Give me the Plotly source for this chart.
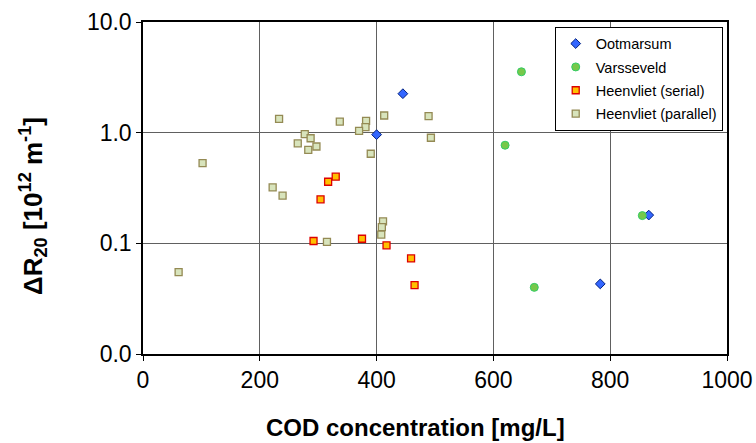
import plotly.graph_objects as go

# Data
oot_x = [445, 400, 866, 783]
oot_y = [2.25, 0.96, 0.18, 0.043]

var_x = [648, 620, 855, 670]
var_y = [3.55, 0.77, 0.178, 0.040]

ser_x = [317, 330, 304, 292, 375, 417, 459, 465]
ser_y = [0.36, 0.40, 0.25, 0.105, 0.11, 0.096, 0.073, 0.042]

par_x = [233, 337, 382, 381, 370, 413, 489, 493, 277, 287, 265, 283, 297, 390,
         102, 222, 239, 411, 409, 408, 315, 61]
par_y = [1.33, 1.26, 1.28, 1.12, 1.04, 1.43, 1.41, 0.90, 0.97, 0.89, 0.80, 0.70,
         0.75, 0.645, 0.53, 0.32, 0.27, 0.158, 0.14, 0.12, 0.103, 0.055]

x_ticks = [0, 200, 400, 600, 800, 1000]
y_tickvals = [0.01, 0.1, 1, 10]
y_ticktext = ["0.0", "0.1", "1.0", "10.0"]

x_title = "<b>COD concentration [mg/L]</b>"
y_title = "<b>ΔR<sub>20</sub> [10<sup>12</sup> m<sup>-1</sup>]</b>"

fig = go.Figure()
fig.add_trace(go.Scatter(x=oot_x, y=oot_y, mode="markers", name="Ootmarsum", legendgroup="a",
                         marker=dict(symbol="diamond", size=7.5, color="#3366FF",
                                     line=dict(color="#002080", width=1))))
fig.add_trace(go.Scatter(x=var_x, y=var_y, mode="markers", name="Varsseveld", legendgroup="b",
                         marker=dict(symbol="circle", size=8, color="#77C84A",
                                     line=dict(color="#33CC66", width=1))))
fig.add_trace(go.Scatter(x=ser_x, y=ser_y, mode="markers", name="Heenvliet (serial)", legendgroup="c",
                         marker=dict(symbol="square", size=7, color="#FFC000",
                                     line=dict(color="#DD0000", width=1.3))))
fig.add_trace(go.Scatter(x=par_x, y=par_y, mode="markers", name="Heenvliet (parallel)", legendgroup="d",
                         marker=dict(symbol="square", size=7, color="#D8E4BC",
                                     line=dict(color="#948A54", width=1.3))))

fig.update_layout(
    width=756, height=443,
    margin=dict(l=143, r=29, t=22, b=89),
    paper_bgcolor="white", plot_bgcolor="white",
    font=dict(family="Liberation Sans, Arial", color="black"),
    showlegend=True,
    legend=dict(x=0.705, y=0.986, xanchor="left", yanchor="top",
                bgcolor="white", bordercolor="black", borderwidth=1,
                font=dict(size=14.5), itemsizing="trace",
                tracegroupgap=1.5, itemwidth=30),
    xaxis=dict(range=[0, 1000], tickvals=x_ticks, showgrid=True, automargin=False,
               gridcolor="#606060", gridwidth=1, zeroline=False,
               showline=True, linecolor="black", linewidth=1.5, mirror=True,
               ticks="outside", ticklen=5, tickcolor="black",
               tickfont=dict(size=23)),
    yaxis=dict(type="log", range=[-2, 1], tickvals=y_tickvals, ticktext=y_ticktext,
               showgrid=True, gridcolor="#606060", gridwidth=1, zeroline=False, automargin=False,
               showline=True, linecolor="black", linewidth=1.5, mirror=True,
               ticks="outside", ticklen=5, tickcolor="black",
               tickfont=dict(size=23)),
    annotations=[
        dict(text=x_title, xref="paper", yref="paper", x=(415 - 143) / 584, y=-(427 - 354) / 332,
             xanchor="center", yanchor="middle", showarrow=False, font=dict(size=24)),
        dict(text=y_title, xref="paper", yref="paper", x=-(143 - 33) / 584, y=(354 - 206) / 332,
             xanchor="center", yanchor="middle", showarrow=False, textangle=-90,
             font=dict(size=26)),
    ],
)

fig.write_html("out.html")
